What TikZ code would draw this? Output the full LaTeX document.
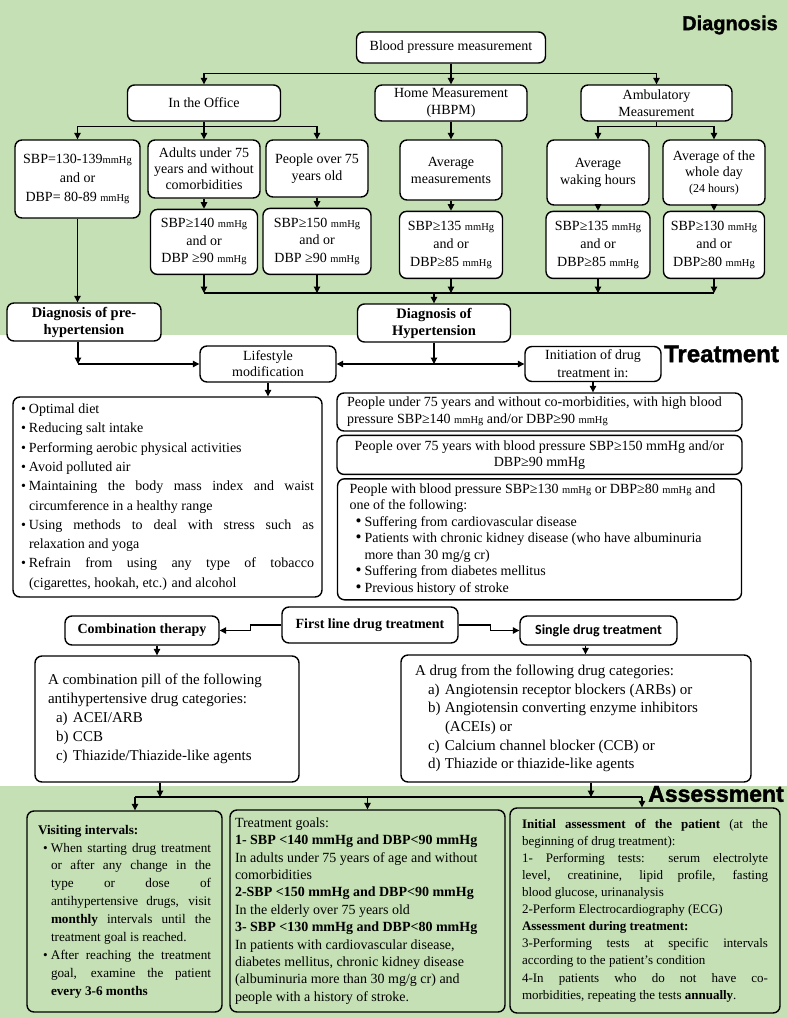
\documentclass[tikz,border=0pt]{standalone}
\usepackage{fontspec}
\setmainfont{Liberation Serif}
\newfontfamily\headfont[BoldFeatures={FakeBold=1.6}]{Liberation Sans}
\newfontfamily\calfont{Carlito}
\usetikzlibrary{arrows.meta, positioning}
\definecolor{bggreen}{RGB}{197,224,180}
\newcommand{\setfs}[2]{\fontsize{#1}{#2}\selectfont}
\newcommand{\mmhg}{{\setfs{10.5}{12}mmHg}}
\newcommand{\lsitem}[1]{\par\noindent\hangindent=8pt\hangafter=1\makebox[8pt][l]{\textbullet}#1}
\newlength{\catind}\newlength{\catlab}
\newcommand{\catitem}[1]{\par\noindent\hangindent=\dimexpr\catind+\catlab\relax\hangafter=1\hspace*{\catind}\makebox[\catlab][l]{#1}}
\newcommand{\bigbul}{{\setfs{17}{17}\textbullet}}
\tikzstyle{flow}=[x=1pt, y=-1pt, line width=1.1pt, >={Triangle[length=6.5pt,width=6.5pt]}]
\tikzstyle{box}=[draw, rounded corners=7pt, line width=1.4pt, fill=white, inner sep=2pt, align=center, font=\setfs{14}{17}]
\tikzstyle{gbox}=[box, fill=bggreen]
\tikzstyle{heading}=[inner sep=0pt]

\begin{document}
\begin{tikzpicture}[flow]
  \useasboundingbox (0,0) rectangle (787,1018);
  \fill[white] (0,0) rectangle (787,1018);
  \fill[bggreen] (0,0) rectangle (787,335);
  \fill[bggreen] (0,786) rectangle (787,1018);

  % section titles
  \node[heading, font=\headfont\bfseries\setfs{20}{24}] (diaghead) at (730,25) {Diagnosis};
  \node[heading, font=\headfont\bfseries\setfs{24}{28}] (treathead) at (721.5,354) {Treatment};
  \node[heading, font=\headfont\bfseries\setfs{23}{27}] (assesshead) at (716,794) {Assessment};

  % diagnosis
  \node[box, minimum width=189pt, minimum height=31pt] (bpm) at (451,47.5) {Blood pressure measurement};
  \node[box, minimum width=153pt, minimum height=36pt] (office) at (204,103) {In the Office};
  \node[box, minimum width=152pt, minimum height=36pt] (home) at (451,103) {Home Measurement\\(HBPM)};
  \node[box, minimum width=151pt, minimum height=36pt] (amb) at (656.5,103) {Ambulatory\\Measurement};

  \node[box, minimum width=125pt, minimum height=78pt, font=\setfs{14}{19}] (prehyp) at (77.5,179) {SBP=130-139\mmhg\\and or\\DBP= 80-89 \mmhg};
  \node[box, minimum width=112pt, minimum height=58pt, font=\setfs{14}{16}] (adults) at (204,169) {Adults under 75\\years and without\\comorbidities};
  \node[box, minimum width=102pt, minimum height=57pt] (over75) at (317,168.5) {People over 75\\years old};
  \node[box, minimum width=102pt, minimum height=60pt] (avgm) at (451,170) {Average\\measurements};
  \node[box, minimum width=102pt, minimum height=65pt] (avgw) at (598,172.5) {Average\\waking hours};
  \node[box, minimum width=102pt, minimum height=65pt, font=\setfs{14}{16}] (avgd) at (714,172.5) {Average of the\\whole day\\{\setfs{12}{14}(24 hours)}};

  \node[box, minimum width=107pt, minimum height=65pt, font=\setfs{14}{17.5}] (sbp140) [below=10pt of adults] {SBP≥140 \mmhg\\and or\\DBP ≥90 \mmhg};
  \node[box, minimum width=108pt, minimum height=66pt, font=\setfs{14}{17.5}] (sbp150) [below=10pt of over75] {SBP≥150 \mmhg\\and or\\DBP ≥90 \mmhg};
  \node[box, minimum width=103pt, minimum height=67pt, font=\setfs{14}{18}] (sbp135h) [below=10pt of avgm] {SBP≥135 \mmhg\\and or\\DBP≥85 \mmhg};
  \node[box, minimum width=104pt, minimum height=67pt, font=\setfs{14}{18}] (sbp135a) [below=5pt of avgw] {SBP≥135 \mmhg\\and or\\DBP≥85 \mmhg};
  \node[box, minimum width=101pt, minimum height=67pt, font=\setfs{14}{18}] (sbp130) [below=5pt of avgd] {SBP≥130 \mmhg\\and or\\DBP≥80 \mmhg};

  \node[box, minimum width=154pt, minimum height=38pt, font=\bfseries\setfs{14.5}{17}] (dxpre) at (84,322) {Diagnosis of pre-\\hypertension};
  \node[box, minimum width=153pt, minimum height=38pt, font=\bfseries\setfs{14.5}{17}] (dxhyp) at (434,323) {Diagnosis of\\Hypertension};

  % treatment
  \node[box, minimum width=136pt, minimum height=36pt, font=\setfs{14}{16}] (lifestyle) at (268,364) {Lifestyle\\modification};
  \node[box, minimum width=136pt, minimum height=35pt, font=\setfs{14}{18}] (initiation) at (593,364) {Initiation of drug\\treatment in:};

  \node[box, minimum width=309pt, minimum height=200pt, font=\setfs{14}{19.3}] (lslist) at (167.5,497) {\begin{minipage}{293pt}
    \lsitem{Optimal diet}
    \lsitem{Reducing salt intake}
    \lsitem{Performing aerobic physical activities}
    \lsitem{Avoid polluted air}
    \lsitem{Maintaining the body mass index and waist\linebreak circumference in a healthy range}
    \lsitem{Using methods to deal with stress such as\linebreak relaxation and yoga}
    \lsitem{Refrain from using any type of tobacco\linebreak (cigarettes, hookah, etc.) and alcohol}
  \end{minipage}};

  \node[box, minimum width=405pt, minimum height=38pt] (pu75) at (539.5,412) {\begin{minipage}{385pt}\raggedright
    People under 75 years and without co-morbidities, with high blood\\
    pressure SBP≥140 \mmhg{} and/or DBP≥90 \mmhg
  \end{minipage}};
  \node[box, minimum width=405pt, minimum height=39pt, font=\setfs{14}{16}] (po75) [below=3pt of pu75] {People over 75 years with blood pressure SBP≥150 mmHg and/or\\DBP≥90 mmHg};
  \node[box, minimum width=404pt, minimum height=121pt, font=\setfs{14}{16.5}] (pwbp) [below=3pt of po75] {\begin{minipage}{380pt}\raggedright
    \setlength{\catind}{6pt}\setlength{\catlab}{9pt}
    People with blood pressure SBP≥130 \mmhg{} or DBP≥80 \mmhg{} and\\
    one of the following:
    \catitem{\bigbul}Suffering from cardiovascular disease
    \catitem{\bigbul}Patients with chronic kidney disease (who have albuminuria\newline more than 30 mg/g cr)
    \catitem{\bigbul}Suffering from diabetes mellitus
    \catitem{\bigbul}Previous history of stroke
  \end{minipage}};

  \node[box, minimum width=176pt, minimum height=36pt, font=\bfseries\setfs{14}{17}] (firstline) at (370,625) {First line drug treatment};
  \node[box, minimum width=154pt, minimum height=29pt, font=\bfseries\setfs{14}{17}] (ctherapy) at (142,630.5) {Combination therapy};
  \node[box, minimum width=157pt, minimum height=29pt, font=\calfont\bfseries\setfs{14}{17}] (single) at (598.5,630.5) {Single drug treatment};

  \node[box, minimum width=264pt, minimum height=126pt, font=\setfs{15}{19}] (pill) at (167,719) {\begin{minipage}{238pt}\raggedright
    \setlength{\catind}{8pt}\setlength{\catlab}{17pt}
    A combination pill of the following\\
    antihypertensive drug categories:
    \catitem{a)}ACEI/ARB
    \catitem{b)}CCB
    \catitem{c)}Thiazide/Thiazide-like agents
  \end{minipage}};
  \node[box, minimum width=350pt, minimum height=127pt, font=\setfs{15}{18.6}] (drug) at (576,718.5) {\begin{minipage}{322pt}\raggedright
    \setlength{\catind}{13pt}\setlength{\catlab}{17pt}
    A drug from the following drug categories:
    \catitem{a)}Angiotensin receptor blockers (ARBs) or
    \catitem{b)}Angiotensin converting enzyme inhibitors\newline (ACEIs) or
    \catitem{c)}Calcium channel blocker (CCB) or
    \catitem{d)}Thiazide or thiazide-like agents
  \end{minipage}};

  % assessment
  \node[gbox, minimum width=195pt, minimum height=201pt, font=\setfs{13.2}{17.9}] (visit) at (124.5,911.5) {\begin{minipage}{173pt}
    \setlength{\catind}{5pt}\setlength{\catlab}{8pt}
    \noindent\textbf{Visiting intervals:}
    \catitem{\textbullet}When starting drug treatment\linebreak or after any change in the\linebreak type or dose of\linebreak antihypertensive drugs, visit\linebreak \textbf{monthly} intervals until the\linebreak treatment goal is reached.
    \catitem{\textbullet}After reaching the treatment\linebreak goal, examine the patient\linebreak \textbf{every 3-6 months}
  \end{minipage}};
  \node[gbox, minimum width=275pt, minimum height=202pt, font=\setfs{14}{17.4}] (goals) at (367.5,911) {\begin{minipage}{265pt}\raggedright
    Treatment goals:\\
    \textbf{1- SBP <140 mmHg and DBP<90 mmHg}\\
    In adults under 75 years of age and without\\
    comorbidities\\
    \textbf{2-SBP <150 mmHg and DBP<90 mmHg}\\
    In the elderly over 75 years old\\
    \textbf{3- SBP <130 mmHg and DBP<80 mmHg}\\
    In patients with cardiovascular disease,\\
    diabetes mellitus, chronic kidney disease\\
    (albuminuria more than 30 mg/g cr) and\\
    people with a history of stroke.
  \end{minipage}};
  \node[gbox, minimum width=270pt, minimum height=205pt, font=\setfs{13}{17.1}] (init) at (645,910.5) {\begin{minipage}{246pt}
    \noindent\textbf{Initial assessment of the patient} (at the\linebreak beginning of drug treatment):
    \par\noindent 1- Performing tests: serum electrolyte\linebreak level, creatinine, lipid profile, fasting\linebreak blood glucose, urinanalysis
    \par\noindent 2-Perform Electrocardiography (ECG)
    \par\noindent\textbf{Assessment during treatment:}
    \par\noindent 3-Performing tests at specific intervals\linebreak according to the patient's condition
    \par\noindent 4-In patients who do not have co-\linebreak morbidities, repeating the tests \textbf{annually}.
  \end{minipage}};

  % diagnosis tree connectors
  \draw[->] (bpm.south) -- ++(0,10) -| (office.north);
  \draw[->] (bpm.south) -- ++(0,10) -| (amb.north);
  \draw[->] (bpm) -- (home);
  \draw[->] (office.south) -- ++(0,5) -| (prehyp.north);
  \draw[->] (office.south) -- ++(0,5) -| (over75.north);
  \draw[->] (office) -- (adults);
  \draw[->] (home) -- (avgm);
  \draw[->] (amb.south) -- ++(0,5) -| (avgw.north);
  \draw[->] (amb.south) -- ++(0,5) -| (avgd.north);
  \foreach \a/\b in {adults/sbp140, over75/sbp150, avgm/sbp135h, avgw/sbp135a, avgd/sbp130}
    \draw[->] (\a) -- (\b);

  \coordinate (collect) at (434,293);
  \foreach \b in {sbp140, sbp150, sbp135h, sbp135a, sbp130}
    \draw[->] (\b.south) -- (\b.south |- collect);
  \draw (sbp140.south |- collect) -- (sbp130.south |- collect);
  \draw[->] (collect) -- (dxhyp.north);
  \draw[->] (prehyp.south) -- (prehyp.south |- dxpre.north);

  % treatment connectors
  \coordinate (prebend) at ([xshift=-6pt]dxpre.south |- lifestyle.west);
  \draw[->] ([xshift=-6pt]dxpre.south) -- (prebend);
  \draw[->] (prebend) -- (lifestyle.west);
  \draw[->] (dxhyp.south) -- (dxhyp.south |- lifestyle.east);
  \draw[<->] (lifestyle.east) -- (initiation.west);
  \draw[->] (lifestyle.south) -- (lifestyle.south |- lslist.north);
  \draw[->] (initiation.south) -- (initiation.south |- pu75.north);

  \draw[->] (firstline.west) -- ++(-31,0) |- (ctherapy.east);
  \draw[->] (firstline.east) -- ++(32,0) |- (single.west);
  \draw[->] ([xshift=15pt]ctherapy.south) -- ([xshift=15pt]ctherapy.south |- pill.north);
  \draw[->] ([xshift=-13pt]single.south) -- ([xshift=-13pt]single.south |- drug.north);

  % assessment connectors
  \coordinate (aleft) at (135,797);
  \coordinate (aright) at (642,797);
  \draw[->] ([xshift=-7pt]pill.south) -- ([xshift=-7pt]pill.south |- aleft);
  \draw[->] ([xshift=15pt]drug.south) -- ([xshift=15pt]drug.south |- aright);
  \draw (aleft) -- (aright);
  \draw[->] (aleft) -- (aleft |- visit.north);
  \draw[->] (goals.north |- aleft) -- (goals.north);
  \draw[->] (aright) -- (aright |- init.north);
\end{tikzpicture}
\end{document}
